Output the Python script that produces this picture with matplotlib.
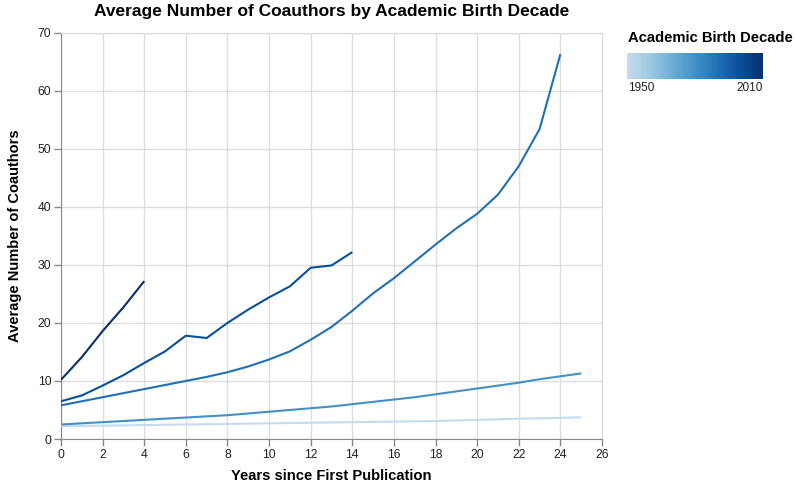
import matplotlib.pyplot as plt
import matplotlib.colors as mcolors
import numpy as np

plt.rcParams['font.family'] = ['Liberation Sans', 'DejaVu Sans']

# decade -> average coauthors per year since first publication
decades = [1950, 1980, 1990, 2000, 2010]
coauthors = {
    1950: [2.2, 2.25, 2.3, 2.35, 2.4, 2.45, 2.5, 2.55, 2.6, 2.65, 2.7, 2.75, 2.8,
           2.85, 2.9, 2.95, 3.0, 3.05, 3.1, 3.2, 3.3, 3.4, 3.5, 3.55, 3.65, 3.75],
    1980: [2.5, 2.7, 2.9, 3.1, 3.3, 3.5, 3.7, 3.9, 4.1, 4.4, 4.7, 5.0, 5.3,
           5.6, 6.0, 6.4, 6.8, 7.2, 7.7, 8.2, 8.7, 9.2, 9.7, 10.3, 10.8, 11.3],
    1990: [5.8, 6.5, 7.2, 7.9, 8.6, 9.3, 10.0, 10.7, 11.5, 12.5, 13.7, 15.1, 17.1,
           19.3, 22.1, 25.1, 27.7, 30.6, 33.5, 36.3, 38.8, 42.1, 47.0, 53.4, 66.3],
    2000: [6.5, 7.5, 9.2, 11.0, 13.1, 15.1, 17.8, 17.4, 20.0, 22.3, 24.4, 26.3,
           29.5, 29.9, 32.2],
    2010: [10.2, 14.1, 18.6, 22.7, 27.2],
}
year_ticks = list(range(0, 27, 2))
count_ticks = list(range(0, 71, 10))

cmap = mcolors.LinearSegmentedColormap.from_list(
    'birth', plt.cm.Blues(np.linspace(0.25, 1.0, 64)))
norm = mcolors.Normalize(vmin=1950, vmax=2010)

fig = plt.figure(figsize=(7.94, 4.83), dpi=100)
ax = fig.add_axes([61 / 794, 44 / 483, 541 / 794, 406.3 / 483])

for d in decades:
    vals = coauthors[d]
    ax.plot(range(len(vals)), vals, color=cmap(norm(d)), lw=1.5,
            solid_capstyle='butt', zorder=3)

ax.set_xlim(0, 26)
ax.set_ylim(0, 70)
ax.set_xticks(year_ticks)
ax.set_yticks(count_ticks)
ax.grid(True, color='#dddddd', lw=1)
ax.set_axisbelow(True)
for side in ['top', 'right']:
    ax.spines[side].set_color('#dddddd')
for side in ['left', 'bottom']:
    ax.spines[side].set_color('#888888')
ax.tick_params(colors='#888888', labelcolor='#222222', labelsize=8.8,
               length=5, width=1, pad=2)

ax.set_xlabel('Years since First Publication', fontsize=10.6,
              fontweight='bold', labelpad=6)
ax.set_ylabel('Average Number of Coauthors', fontsize=10.5, fontweight='bold',
              labelpad=11)
ax.set_title('Average Number of Coauthors by Academic Birth Decade',
             fontsize=12.5, fontweight='bold', pad=12)

# gradient legend
fig.text(628 / 794, 1 - 38 / 483, 'Academic Birth Decade', fontsize=10.6,
         fontweight='bold', va='center', ha='left')
cax = fig.add_axes([627 / 794, 1 - 79 / 483, 136 / 794, 26 / 483])
grad = np.linspace(1950, 2010, 256).reshape(1, -1)
cax.imshow(grad, aspect='auto', cmap=cmap, norm=norm)
cax.set_xticks([])
cax.set_yticks([])
for s in cax.spines.values():
    s.set_visible(False)
fig.text(628 / 794, 1 - 88 / 483, '1950', fontsize=8.5, va='center',
         ha='left', color='#222222')
fig.text(763 / 794, 1 - 88 / 483, '2010', fontsize=8.5, va='center',
         ha='right', color='#222222')

fig.savefig('out.png', dpi=100)
